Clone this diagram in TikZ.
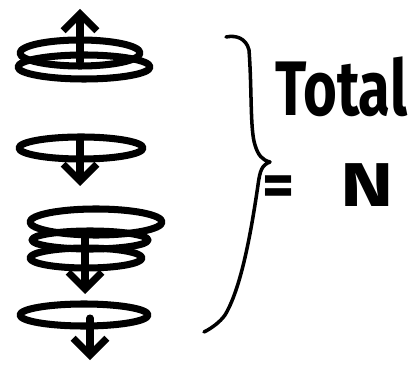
\documentclass[tikz,border=0pt]{standalone}
\usepackage{fontspec}
\setmainfont{Fira Sans}
\usepackage{tikz}
\usetikzlibrary{arrows.meta}
\begin{document}
\begin{tikzpicture}[x=0.025cm,y=-0.025cm,line cap=round,line join=round]
  \useasboundingbox (0,0) rectangle (418,365);
  % spinning loops
  \foreach \cx/\cy/\rx/\ry in {80/53/60/13, 84/67/66/12, 81/148/62/11,
      96/222/66/13, 90/240/58/9, 86/258/56/10, 84/315/64/11}
    \draw[line width=5pt] (\cx,\cy) ellipse [x radius=\rx, y radius=\ry];
  % spin arrows
  \foreach \x/\a/\b [count=\i] in {80/62/9, 80/140/186, 85/232/294, 90/318/360}
    \draw[line width=5pt,-{Straight Barb[length=12pt,width=24pt]}] (\x,\a) coordinate (s\i) -- (\x,\b) coordinate (t\i);
  % brace
  \draw[line width=2.5pt] (226,37) .. controls (236,35) and (246,38) .. (249,50)
    .. controls (252,90) and (250,130) .. (255,145)
    .. controls (258,155) and (262,160) .. (270,162) coordinate (cusp)
    .. controls (262,165) and (260,170) .. (258,185)
    .. controls (250,240) and (240,290) .. (225,315)
    .. controls (220,322) and (212,328) .. (204,332);
  \node[font=\fontsize{55}{55}\selectfont\bfseries,anchor=base west,inner sep=0] (total) at (275,116) {\scalebox{0.75}[1]{Total}};
  \node[font=\fontsize{44}{44}\selectfont\bfseries,anchor=base west,inner sep=0] (eqN) at (262,207) {=\hspace{0.75em}\scalebox{1.3}[1]{N}};
\end{tikzpicture}
\end{document}
